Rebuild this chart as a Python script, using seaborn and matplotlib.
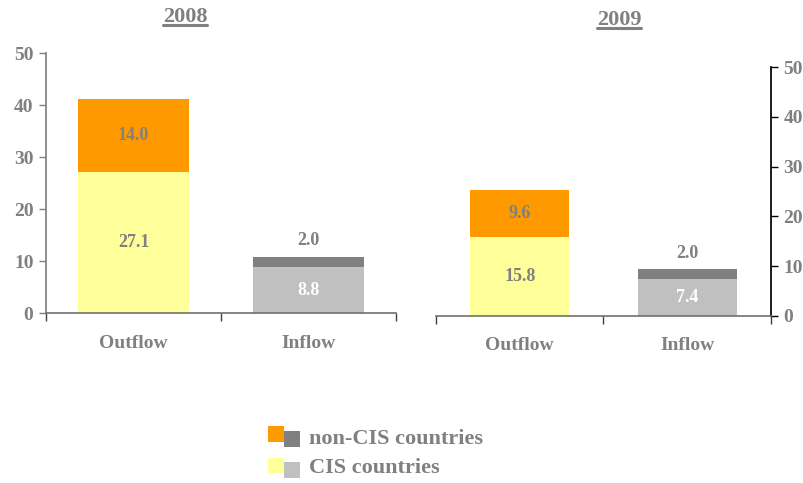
import matplotlib
matplotlib.use("Agg")
import matplotlib.pyplot as plt
from matplotlib.lines import Line2D
from matplotlib.patches import Rectangle
import seaborn as sns
import pandas as pd

# Capital flows, USD bn
categories = ["Outflow", "Inflow"]
cis_2008 = [27.1, 8.8]
non_cis_2008 = [14.0, 2.0]
cis_2009 = [15.8, 7.4]
non_cis_2009 = [9.6, 2.0]
years = ["2008", "2009"]
y_ticks = [0, 10, 20, 30, 40, 50]

ORANGE = "#FF9900"
YELLOW = "#FFFF99"
DARK = "#808080"
LIGHT = "#C0C0C0"
TEXT = "#808080"

sns.set_theme(style="white")
plt.rcParams["font.family"] = ["Liberation Serif", "DejaVu Serif"]
plt.rcParams["font.weight"] = "bold"

fig = plt.figure(figsize=(8.04, 4.83), dpi=100)
W, H = 804, 483


def px_axes(x0, y0, x1, y1):
    return fig.add_axes([x0 / W, 1 - y1 / H, (x1 - x0) / W, (y1 - y0) / H])


def draw_panel(ax, cis, non_cis, width, side, spine_color):
    df = pd.DataFrame({"cat": categories,
                       "total": [a + b for a, b in zip(cis, non_cis)],
                       "cis": cis})
    sns.barplot(data=df, x="cat", y="total", hue="cat",
                palette=[ORANGE, DARK], width=width, saturation=1,
                legend=False, ax=ax, edgecolor="none")
    sns.barplot(data=df, x="cat", y="cis", hue="cat",
                palette=[YELLOW, LIGHT], width=width, saturation=1,
                legend=False, ax=ax, edgecolor="none")
    ax.set_xlim(-0.5, 1.5)
    ax.set_ylim(0, 50)
    ax.set_xlabel("")
    ax.set_ylabel("")
    ax.set_yticks(y_ticks)
    ax.set_xticks([-0.5, 0.5, 1.5])
    ax.set_xticklabels([])
    for i, c in enumerate(categories):
        ax.text(i, -4.2, c, ha="center", va="top", fontsize=14,
                fontweight="bold", color=TEXT, clip_on=False)
    for s in ["top", "left", "right"]:
        ax.spines[s].set_visible(False)
    ax.spines[side].set_visible(True)
    ax.spines[side].set_color(spine_color)
    ax.spines["bottom"].set_color("#707070")
    ax.spines["bottom"].set_linewidth(1.2)
    ax.tick_params(axis="x", direction="out", length=6, width=1,
                   color="#404040", bottom=True)
    if side == "right":
        ax.yaxis.tick_right()
    ax.tick_params(axis="y", direction="out", length=5, width=1,
                   color=spine_color, labelsize=14, labelcolor=TEXT,
                   left=(side == "left"), right=(side == "right"),
                   labelleft=(side == "left"), labelright=(side == "right"),
                   pad=4)
    for lab in ax.get_yticklabels():
        lab.set_fontweight("bold")
    # value labels
    ax.text(0, cis[0] + non_cis[0] / 2, f"{non_cis[0]:.1f}", ha="center",
            va="center", fontsize=13, fontweight="bold", color=TEXT)
    ax.text(0, cis[0] / 2, f"{cis[0]:.1f}", ha="center", va="center",
            fontsize=13, fontweight="bold", color=TEXT)
    ax.text(1, cis[1] + non_cis[1] + 3.2, f"{non_cis[1]:.1f}", ha="center",
            va="center", fontsize=13, fontweight="bold", color=TEXT)
    ax.text(1, cis[1] / 2, f"{cis[1]:.1f}", ha="center", va="center",
            fontsize=13, fontweight="bold", color="white")


ax1 = px_axes(46, 53, 396, 313)
draw_panel(ax1, cis_2008, non_cis_2008, 0.63, "left", "#808080")
ax2 = px_axes(436, 67, 771, 316)
draw_panel(ax2, cis_2009, non_cis_2009, 0.59, "right", "black")

# underlined year titles
titles = []
for label, cx, cy in [(years[0], 185, 17), (years[1], 619, 20)]:
    t = fig.text(cx / W, 1 - cy / H, label, ha="center", va="center",
                 fontsize=16, fontweight="bold", color=TEXT)
    titles.append(t)
fig.canvas.draw()
renderer = fig.canvas.get_renderer()
for t in titles:
    bb = t.get_window_extent(renderer)
    y = bb.y0 + 2.5
    fig.add_artist(Line2D([bb.x0 / W, bb.x1 / W], [y / H, y / H],
                          transform=fig.transFigure, color=TEXT, lw=2.2))

# legend
def px_rect(x0, y0, x1, y1, color):
    fig.add_artist(Rectangle((x0 / W, 1 - y1 / H), (x1 - x0) / W,
                             (y1 - y0) / H, transform=fig.transFigure,
                             color=color, lw=0))

px_rect(268, 426, 284, 442, ORANGE)
px_rect(284, 431, 300, 447, DARK)
px_rect(268, 458, 284, 473, YELLOW)
px_rect(284, 462, 300, 478, LIGHT)
fig.text(309 / W, 1 - 439 / H, "non-CIS countries", ha="left", va="center",
         fontsize=16, fontweight="bold", color=TEXT)
fig.text(309 / W, 1 - 468 / H, "CIS countries", ha="left", va="center",
         fontsize=16, fontweight="bold", color=TEXT)

fig.savefig("out.png", dpi=100)
